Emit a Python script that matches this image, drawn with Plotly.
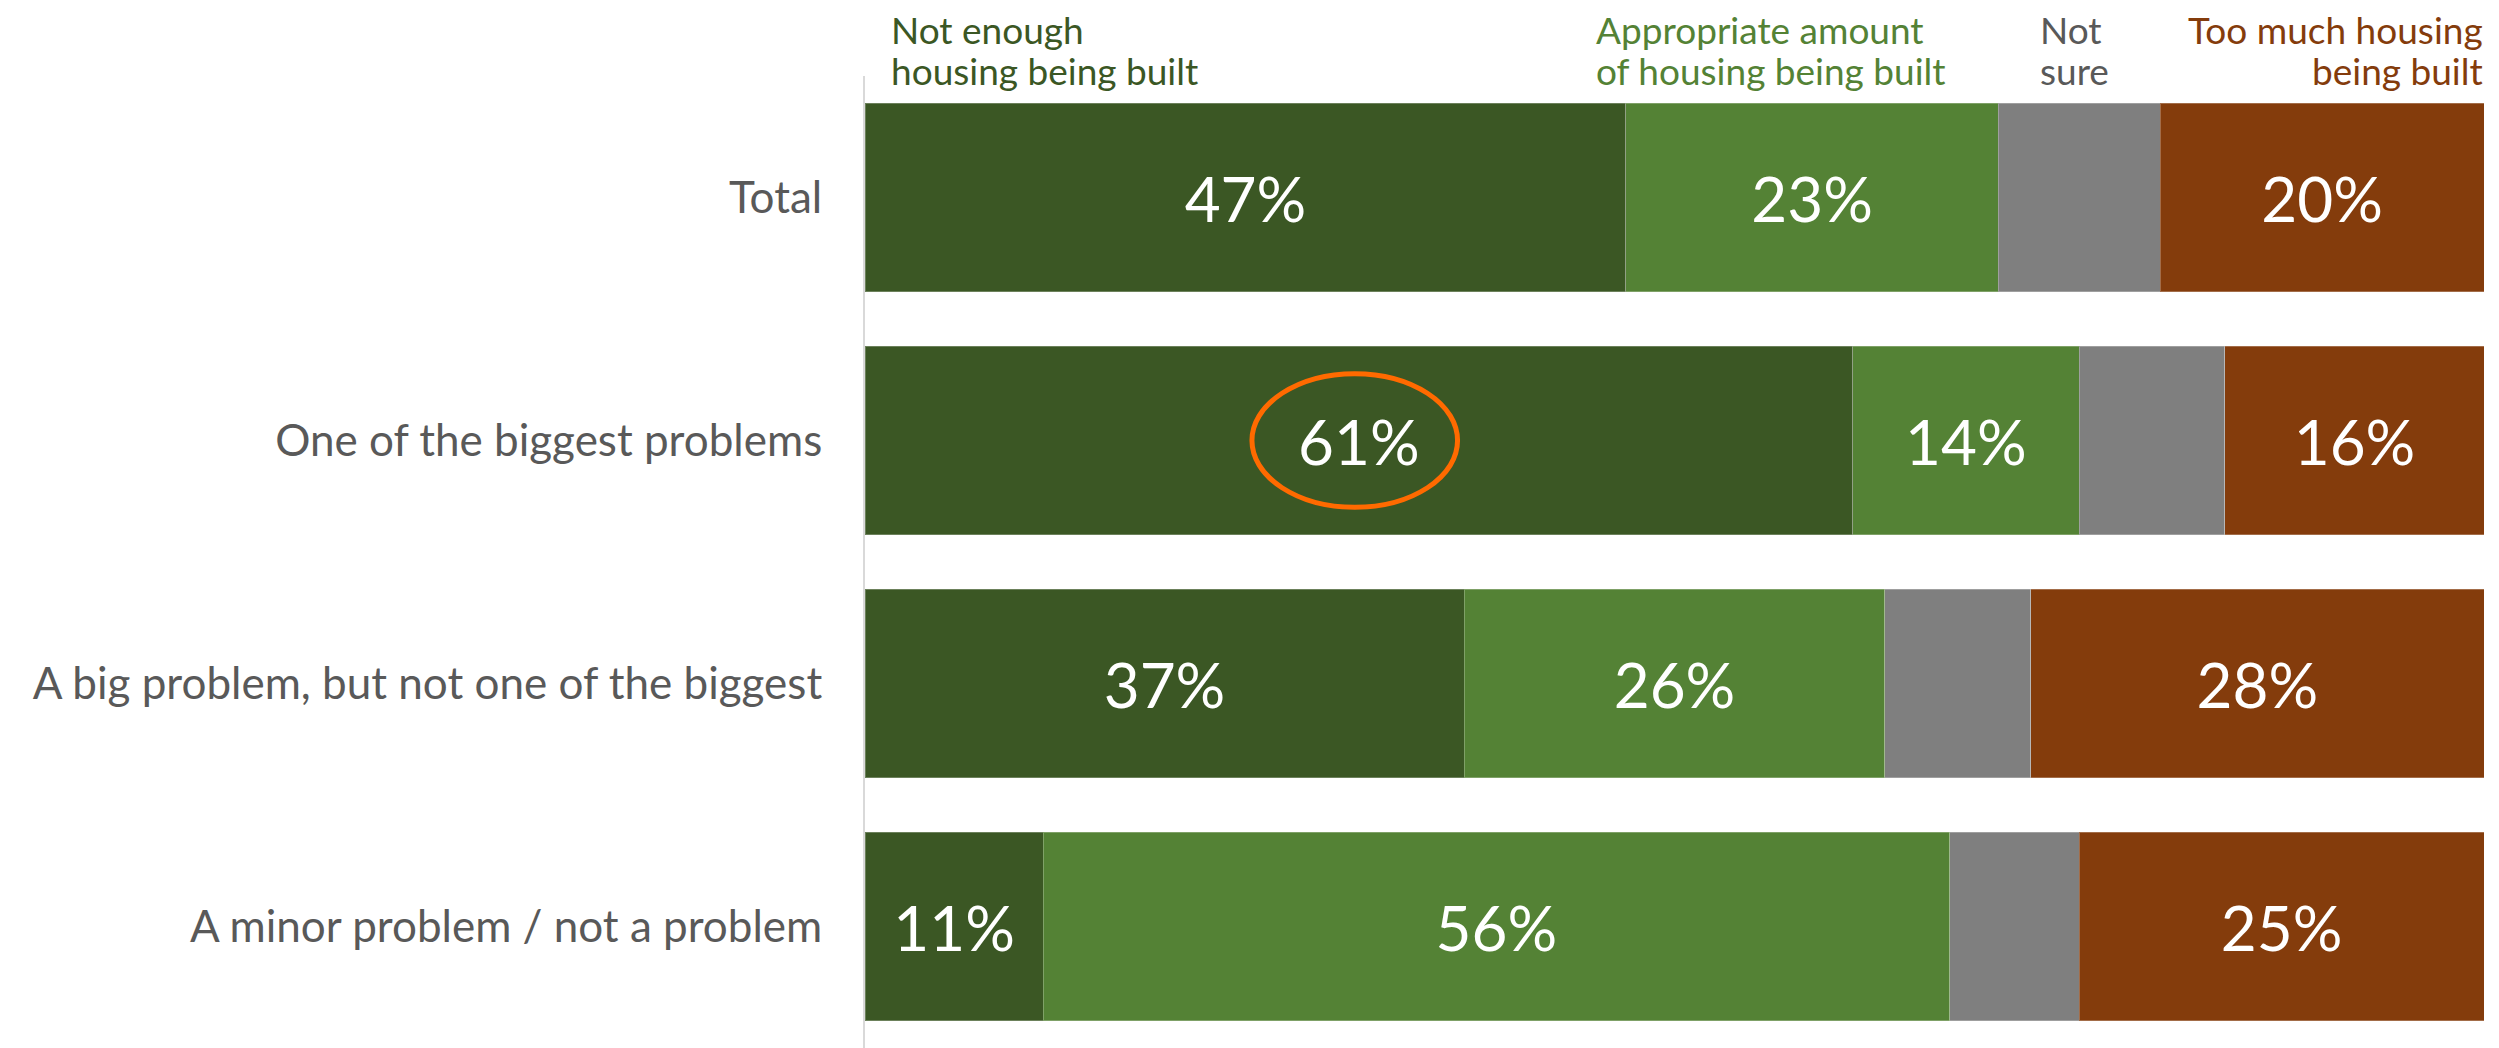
import plotly.graph_objects as go

categories = ["Total", "One of the biggest problems",
              "A big problem, but not one of the biggest",
              "A minor problem / not a problem"]
series_names = ["Not enough<br>housing being built",
                "Appropriate amount<br>of housing being built",
                "Not<br>sure",
                "Too much housing<br>being built"]
not_enough = [47, 61, 37, 11]
appropriate = [23, 14, 26, 56]
not_sure = [10, 9, 9, 8]
too_much = [20, 16, 28, 25]

colors = ["#3B5724", "#548235", "#7F7F7F", "#843C0C"]
header_colors = ["#3B5724", "#548235", "#595959", "#843C0C"]
FONT = "Lato, Open Sans, sans-serif"

fig = go.Figure()
series = [not_enough, appropriate, not_sure, too_much]
for i, vals in enumerate(series):
    show_text = i != 2
    fig.add_trace(go.Bar(
        y=categories, x=vals, orientation="h",
        name=series_names[i].replace("<br>", " "),
        marker=dict(color=colors[i], line=dict(color="rgba(255,255,255,0.25)", width=1)),
        text=[f"{v}%" for v in vals] if show_text else None,
        textposition="inside" if show_text else "none",
        insidetextanchor="middle",
        textfont=dict(family=FONT, size=62, color="white"),
        hoverinfo="skip",
    ))

fig.update_layout(
    barmode="stack", bargap=0.225,
    width=2499, height=1048,
    margin=dict(l=857, r=23, t=68, b=8),
    paper_bgcolor="white", plot_bgcolor="white",
    showlegend=False,
    uniformtext=dict(minsize=62, mode="show"),
    font=dict(family=FONT),
)
fig.update_xaxes(range=[0, 100], visible=False, fixedrange=True)
fig.update_yaxes(autorange="reversed", showline=True, linecolor="#D9D9D9", linewidth=2,
                 showgrid=False, ticks="", ticklabelstandoff=32,
                 tickfont=dict(family=FONT, size=44, color="#595959"))

# Column headers (two lines each, placed as separate annotations for tighter spacing)
headers = [
    dict(x=0.0153, xanchor="left"),
    dict(x=0.4509, xanchor="left"),
    dict(x=0.7251, xanchor="left"),
    dict(x=1.0, xanchor="right"),
]
line_shifts = [47, 6]
for i, h in enumerate(headers):
    for j, line in enumerate(series_names[i].split("<br>")):
        fig.add_annotation(text=line, xref="paper", yref="paper",
                           x=h["x"], y=1.0, yshift=line_shifts[j],
                           xanchor=h["xanchor"], yanchor="middle",
                           showarrow=False, borderpad=0,
                           font=dict(family=FONT, size=37, color=header_colors[i]))

# Highlight ellipse around 61%
fig.add_shape(type="circle", xref="x", yref="y",
              x0=23.9, x1=36.6, y0=1 - 0.275, y1=1 + 0.275,
              line=dict(color="#FF6A00", width=5))

fig.write_html("out.html")
